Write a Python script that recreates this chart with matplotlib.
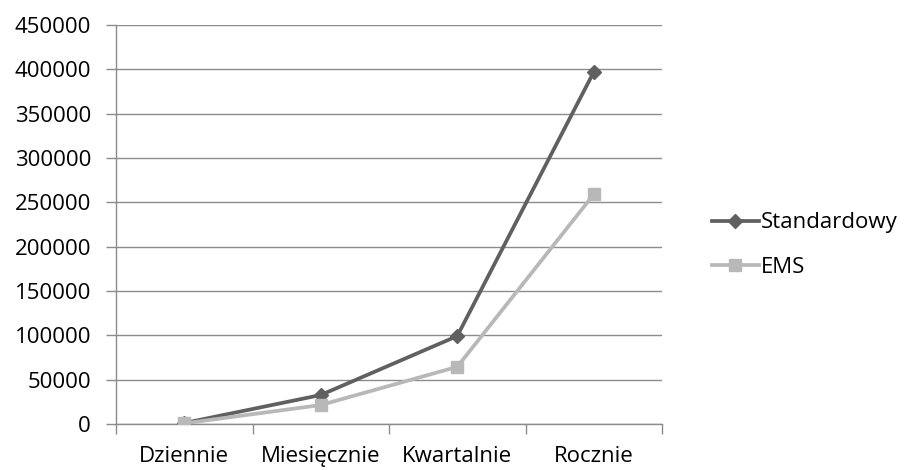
import matplotlib
matplotlib.use("Agg")
import matplotlib.pyplot as plt
from matplotlib.ticker import MultipleLocator, FixedLocator

plt.rcParams['font.family'] = ['Open Sans', 'DejaVu Sans']

categories = ["Dziennie", "Miesięcznie", "Kwartalnie", "Rocznie"]
standardowy = [1100, 32700, 99200, 397000]
ems = [700, 21400, 64500, 259000]

fig = plt.figure(figsize=(9.07, 4.70), dpi=100)
ax = fig.add_axes([116/907, 1 - 424/470, (662 - 116)/907, (424 - 25)/470])

x = list(range(len(categories)))
ax.plot(x, standardowy, color="#606060", lw=2.7, marker="D", ms=7,
        label="Standardowy", zorder=3)
ax.plot(x, ems, color="#b8b8b8", lw=2.7, marker="s", ms=9,
        label="EMS", zorder=3)

ax.set_xlim(-0.5, len(categories) - 0.5)
ax.set_ylim(0, 450000)
ax.yaxis.set_major_locator(MultipleLocator(50000))
ax.grid(axis="y", color="#8c8c8c", lw=1.0)
ax.set_axisbelow(True)

ax.set_xticks(x)
ax.set_xticklabels(categories)
ax.xaxis.set_minor_locator(FixedLocator([i - 0.5 for i in range(len(categories) + 1)]))
ax.tick_params(axis="x", which="major", length=0, pad=16, labelsize=16)
ax.tick_params(axis="x", which="minor", length=7, color="#8c8c8c", width=1.0)
ax.tick_params(axis="y", length=7, color="#8c8c8c", width=1.0, labelsize=16, pad=11)

for side in ("top", "right"):
    ax.spines[side].set_visible(False)
for side in ("left", "bottom"):
    ax.spines[side].set_color("#8c8c8c")
    ax.spines[side].set_linewidth(1.0)

fig.legend(loc="center left", bbox_to_anchor=(703/907, 1 - 245/470),
           frameon=False, fontsize=16, handlelength=2.1, handletextpad=0.1,
           labelspacing=1.05, borderaxespad=0)

fig.savefig("out.png", dpi=100)
